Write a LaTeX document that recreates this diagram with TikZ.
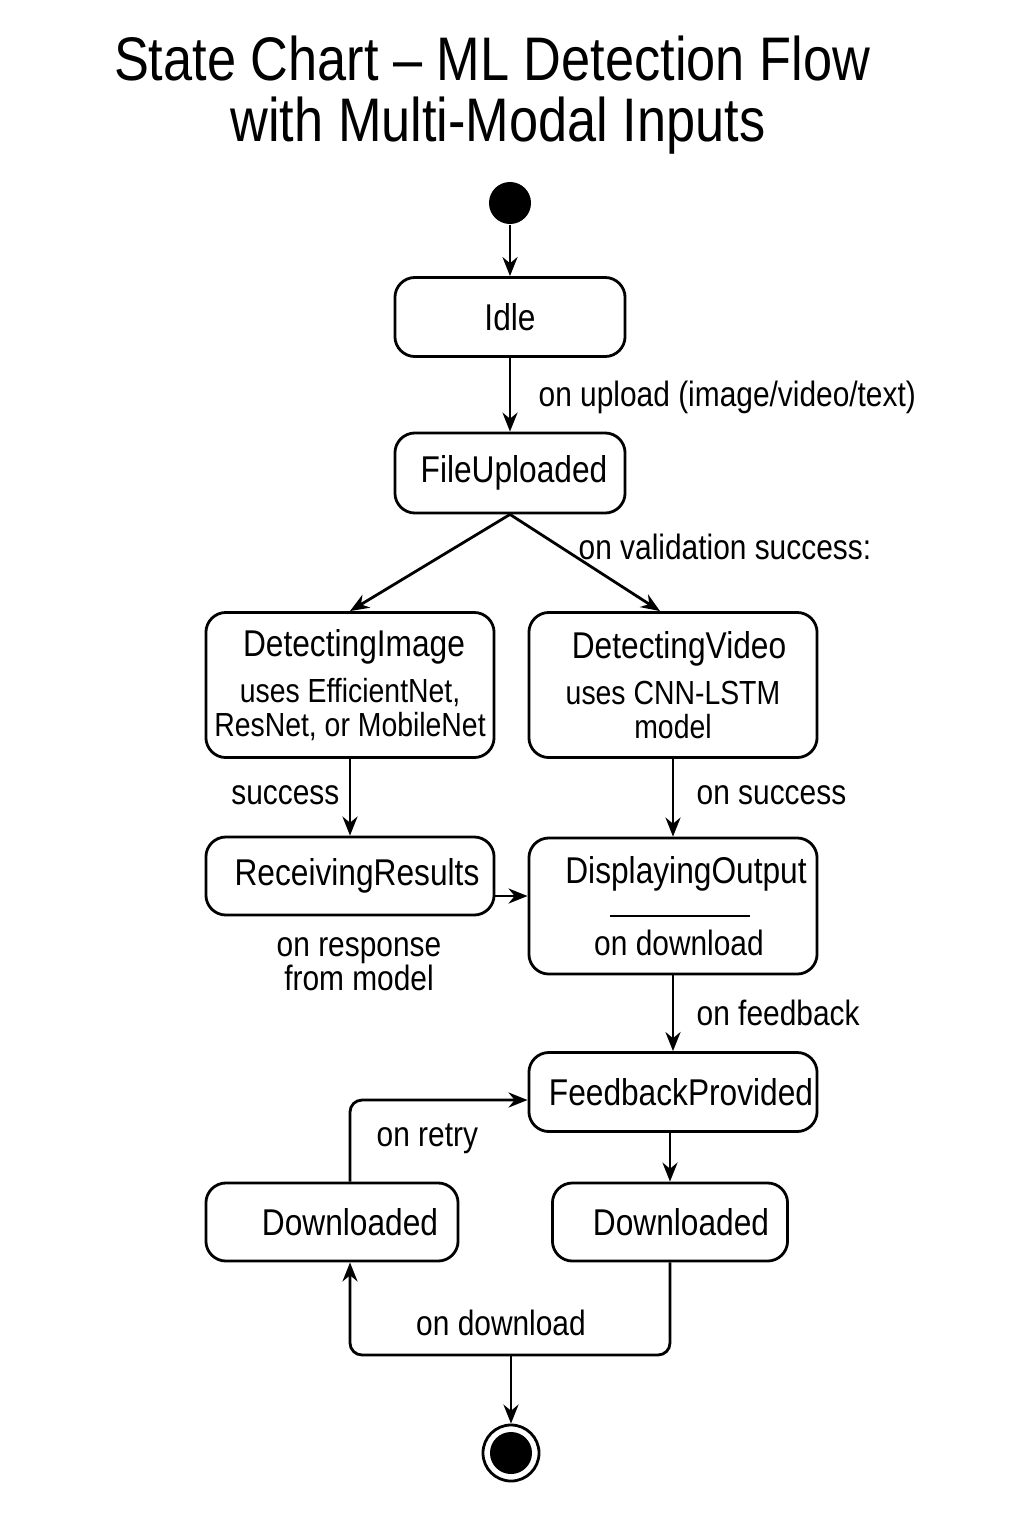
\documentclass[tikz,border=0pt]{standalone}
\usepackage{fontspec}
\setmainfont{Liberation Sans}[FakeStretch=0.85]
\usetikzlibrary{arrows.meta}

\newcommand{\ttlfont}{\fontsize{17.5}{20}\selectfont}
\newcommand{\stfont}{\fontsize{10.6}{13}\selectfont}
\newcommand{\subfont}{\fontsize{9.5}{9.7}\selectfont}
\newcommand{\lbfont}{\fontsize{10}{9.7}\selectfont}

\tikzset{
  statebox/.style={draw, rounded corners=0.2cm, line width=0.028cm, align=center, inner sep=0pt, font=\subfont},
  trans/.style={-{Stealth[length=0.19cm,width=0.15cm]}, line width=0.028cm},
  trlabel/.style={font=\lbfont, inner sep=0pt, align=center},
}

\begin{document}
\begin{tikzpicture}[x=0.01cm,y=-0.01cm]
  % Page frame 1024 x 1536
  \useasboundingbox (0,0) rectangle (1024,1536);
  \fill[white] (0,0) rectangle (1024,1536);

  % Title
  \node (title1) [anchor=base, font=\ttlfont, inner sep=0pt] at (492,80) {State Chart – ML Detection Flow};
  \node (title2) [anchor=base, font=\ttlfont, inner sep=0pt] at (498,141) {with Multi-Modal Inputs};

  % Initial point
  \node (init) [circle, fill=black, minimum size=0.42cm, inner sep=0pt] at (510,203) {};

  % State Idle
  \node (Idle) [statebox, minimum width=2.30cm, minimum height=0.79cm] at (510,317) {\stfont Idle};

  % State FileUploaded
  \node (FileUploaded) [statebox, minimum width=2.30cm, minimum height=0.80cm] at (510,473) {\stfont\hspace*{0.08cm}FileUploaded};

  % State DetectingImage
  \node (DetectingImage) [statebox, minimum width=2.88cm, minimum height=1.45cm] at (350,685)
    {{\stfont\hspace*{0.08cm}DetectingImage}\\[3.4pt] uses EfficientNet,\\ ResNet, or MobileNet};

  % State DetectingVideo
  \node (DetectingVideo) [statebox, minimum width=2.88cm, minimum height=1.45cm] at (673,685)
    {{\stfont\hspace*{0.12cm}DetectingVideo}\\[3.4pt] uses CNN-LSTM\\ model};

  % State ReceivingResults
  \node (ReceivingResults) [statebox, minimum width=2.88cm, minimum height=0.78cm] at (350,876) {\stfont\hspace*{0.14cm}ReceivingResults};

  % State DisplayingOutput
  \node (DisplayingOutput) [statebox, minimum width=2.88cm, minimum height=1.36cm] at (673,906)
    {{\stfont\hspace*{0.26cm}DisplayingOutput}\\[10.8pt] {\lbfont\hspace*{0.12cm}on download}};
  \draw [line width=0.02cm] ([xshift=-0.63cm,yshift=-0.10cm]DisplayingOutput.center) -- ++(1.40cm,0);

  % State FeedbackProvided
  \node (FeedbackProvided) [statebox, minimum width=2.88cm, minimum height=0.79cm] at (673,1092) {\stfont\hspace*{0.16cm}FeedbackProvided};

  % States Downloaded
  \node (DownloadedL) [statebox, minimum width=2.52cm, minimum height=0.78cm] at (332,1222) {\stfont\hspace*{0.36cm}Downloaded};
  \node (DownloadedR) [statebox, minimum width=2.35cm, minimum height=0.78cm] at (670,1222) {\stfont\hspace*{0.22cm}Downloaded};

  % Final point
  \node (final) [circle, draw, line width=0.028cm, minimum size=0.56cm, inner sep=0pt] at (511,1453) {};
  \node (finaldot) [circle, fill=black, minimum size=0.42cm, inner sep=0pt] at (final.center) {};

  % Transitions
  \draw [trans] (init) -- (Idle);
  \draw [trans] (Idle) -- (FileUploaded);
  \node (lbUpload) [trlabel, anchor=west] at (538,397) {on upload (image/video/text)};

  \draw [trans] (FileUploaded.south) -- (DetectingImage.north);
  \draw [trans] (FileUploaded.south) -- ([xshift=-0.13cm]DetectingVideo.north);
  \node (lbValid) [trlabel, anchor=west] at (578,547) {on validation success:};

  \draw [trans] (DetectingImage) -- (ReceivingResults);
  \node (lbSuccessL) [trlabel, anchor=east] at (340,795) {success};

  \draw [trans] (DetectingVideo) -- (DisplayingOutput);
  \node (lbSuccessR) [trlabel, anchor=west] at (696,795) {on success};

  \draw [trans] ([yshift=-0.20cm]ReceivingResults.east) -- ([yshift=-0.20cm]ReceivingResults.east -| DisplayingOutput.west);
  \node (lbResponse) [trlabel] at (359,964) {on response\\ from model};

  \draw [trans] (DisplayingOutput) -- (FeedbackProvided);
  \node (lbFeedback) [trlabel, anchor=west] at (696,1013) {on feedback};

  \draw [trans] (FeedbackProvided.south -| DownloadedR.north) -- (DownloadedR.north);

  % Retry loop
  \draw [trans, rounded corners=0.12cm] ([xshift=0.18cm]DownloadedL.north) |- ([yshift=-0.08cm]FeedbackProvided.west);
  \node (lbRetry) [trlabel, anchor=west] at (376,1139) {on retry};

  % Download loop
  \coordinate (join) at (511,1355);
  \draw [trans, rounded corners=0.12cm] (DownloadedR.south) |- (join) -| ([xshift=0.18cm]DownloadedL.south);
  \node (lbDownload) [trlabel] at (501,1323) {on download};

  \draw [trans] (join) -- (final);
\end{tikzpicture}
\end{document}
